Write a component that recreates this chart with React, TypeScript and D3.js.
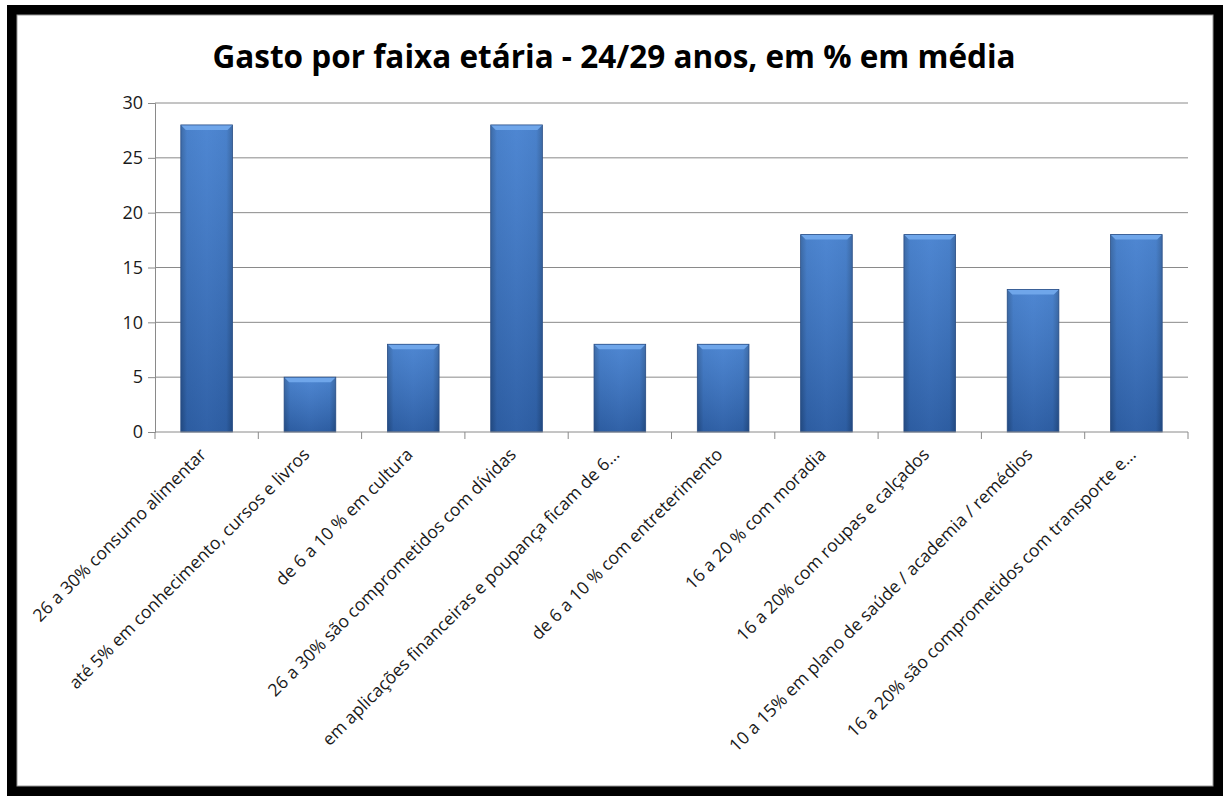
import React, { useEffect, useRef } from 'react';
import * as d3 from 'd3';

const categories: string[] = [
    '26 a 30% consumo alimentar',
    'até 5% em conhecimento, cursos e livros',
    'de 6 a 10 % em cultura',
    '26 a 30% são comprometidos com dívidas',
    'em aplicações financeiras e poupança ficam de 6...',
    'de 6 a 10 % com entreterimento',
    '16 a 20 % com moradia',
    '16 a 20% com roupas e calçados',
    '10 a 15% em plano de saúde / academia / remédios',
    '16 a 20% são comprometidos com transporte e...',
];

const values: number[] = [28, 5, 8, 28, 8, 8, 18, 18, 13, 18];

const yTicks: number[] = [0, 5, 10, 15, 20, 25, 30];

const title = 'Gasto por faixa etária - 24/29 anos, em % em média';

const W = 1224;
const H = 796;
const FONT = '"Open Sans", Lato, sans-serif';

const App: React.FC = () => {
    const svgRef = useRef<SVGSVGElement>(null);

    useEffect(() => {
        if (!svgRef.current) return;
        const svg = d3.select(svgRef.current);
        svg.selectAll('*').remove();

        const margin = { top: 103, left: 155, right: W - 1188, bottom: H - 432 };
        const width = W - margin.left - margin.right;
        const height = H - margin.top - margin.bottom;

        // frame
        svg.append('rect').attr('width', W).attr('height', H).attr('fill', '#fff');
        svg.append('rect')
            .attr('x', 12).attr('y', 10)
            .attr('width', 1206).attr('height', 781)
            .attr('fill', 'none').attr('stroke', '#000').attr('stroke-width', 10);
        svg.append('rect')
            .attr('x', 17).attr('y', 15)
            .attr('width', 1196).attr('height', 771)
            .attr('fill', 'none').attr('stroke', '#999').attr('stroke-width', 1);

        const defs = svg.append('defs');
        const hg = defs.append('linearGradient').attr('id', 'barH')
            .attr('x1', 0).attr('x2', 1).attr('y1', 0).attr('y2', 0);
        hg.append('stop').attr('offset', '0%').attr('stop-color', '#2a558f');
        hg.append('stop').attr('offset', '12%').attr('stop-color', '#3a72bf');
        hg.append('stop').attr('offset', '50%').attr('stop-color', '#4079c8');
        hg.append('stop').attr('offset', '88%').attr('stop-color', '#3a72bf');
        hg.append('stop').attr('offset', '100%').attr('stop-color', '#2a558f');
        const vg = defs.append('linearGradient').attr('id', 'barV')
            .attr('x1', 0).attr('x2', 0).attr('y1', 0).attr('y2', 1);
        vg.append('stop').attr('offset', '0%').attr('stop-color', '#7ab0f0').attr('stop-opacity', 0.25);
        vg.append('stop').attr('offset', '100%').attr('stop-color', '#0d2a5a').attr('stop-opacity', 0.3);

        // title
        svg.append('text')
            .attr('x', 614).attr('y', 68)
            .attr('text-anchor', 'middle')
            .attr('font-family', FONT)
            .attr('font-weight', 'bold')
            .attr('font-size', 31.5)
            .attr('fill', '#000')
            .text(title);

        const x = d3.scaleBand<string>().domain(categories).range([0, width]).paddingInner(0.5).paddingOuter(0.25);
        const y = d3.scaleLinear().domain([0, 30]).range([height, 0]);

        const g = svg.append('g').attr('transform', `translate(${margin.left},${margin.top})`);

        // gridlines
        g.append('g')
            .selectAll('line')
            .data(yTicks.filter(t => t > 0))
            .join('line')
            .attr('x1', 0).attr('x2', width)
            .attr('y1', d => y(d)).attr('y2', d => y(d))
            .attr('stroke', '#8a8a8a').attr('stroke-width', 1);

        // y axis
        const yAxis = g.append('g')
            .call(d3.axisLeft(y).tickValues(yTicks).tickSize(7).tickPadding(5));
        yAxis.select('.domain').attr('stroke', '#8a8a8a');
        yAxis.selectAll('.tick line').attr('stroke', '#8a8a8a');
        yAxis.selectAll('.tick text')
            .attr('font-family', FONT).attr('font-size', 18).attr('fill', '#1a1a1a');

        // bars
        const bars = g.append('g').selectAll('g').data(values).join('g')
            .attr('transform', (d, i) => `translate(${x(categories[i])},${y(d)})`);
        bars.append('rect')
            .attr('width', x.bandwidth())
            .attr('height', d => height - y(d))
            .attr('fill', 'url(#barH)');
        bars.append('rect')
            .attr('width', x.bandwidth())
            .attr('height', d => height - y(d))
            .attr('fill', 'url(#barV)');
        // bevel cap
        bars.append('path')
            .attr('d', () => {
                const bw = x.bandwidth();
                return `M0,0 H${bw} L${bw - 5},5 H5 Z`;
            })
            .attr('fill', '#6fa6ea');
        bars.append('rect')
            .attr('width', x.bandwidth())
            .attr('height', d => height - y(d))
            .attr('fill', 'none')
            .attr('stroke', '#2b4f86')
            .attr('stroke-width', 0.8);

        // x axis
        const boundaries = d3.range(categories.length + 1).map(i => i * (width / categories.length));
        const xAxis = g.append('g').attr('transform', `translate(0,${height})`);
        xAxis.append('line').attr('x1', 0).attr('x2', width).attr('stroke', '#8a8a8a');
        xAxis.selectAll('line.tk').data(boundaries).join('line')
            .attr('class', 'tk')
            .attr('x1', d => d).attr('x2', d => d)
            .attr('y1', 0).attr('y2', 7)
            .attr('stroke', '#8a8a8a');

        xAxis.selectAll('text').data(categories).join('text')
            .attr('transform', d => `translate(${(x(d) ?? 0) + x.bandwidth() / 2 - 8},15) rotate(-45)`)
            .attr('text-anchor', 'end')
            .attr('dy', '0.7em')
            .attr('font-family', FONT)
            .attr('font-size', 17.5)
            .attr('fill', '#1a1a1a')
            .text(d => d);
    }, []);

    return (
        <svg ref={svgRef} width={W} height={H} style={{ position: 'absolute', left: 0, top: 0 }}></svg>
    );
};

export default App;
